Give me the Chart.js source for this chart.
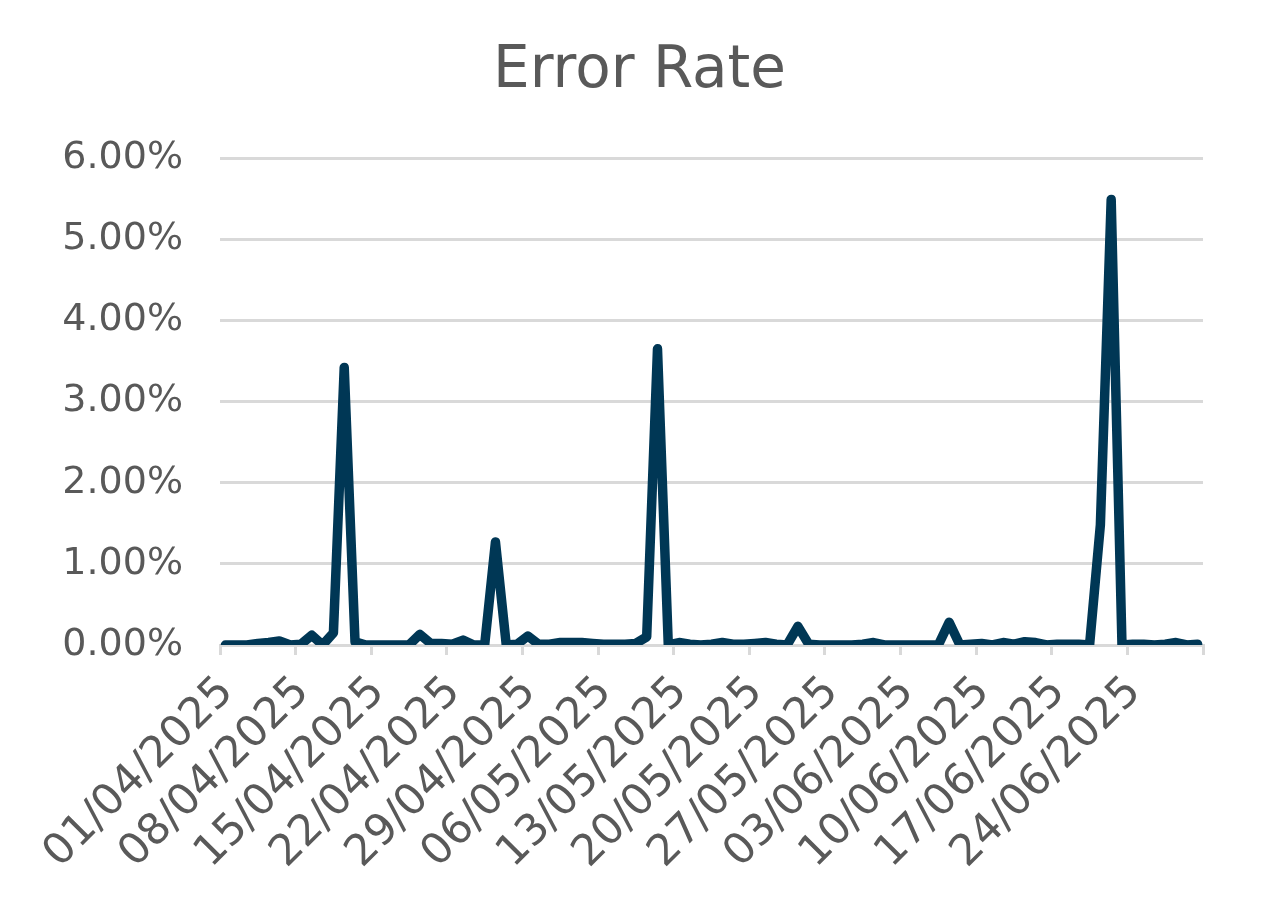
<!DOCTYPE html>
<html>
<head>
<meta charset="utf-8">
<script src="https://cdn.jsdelivr.net/npm/chart.js@4.4.1/dist/chart.umd.min.js"></script>
<style>
  html, body { margin: 0; padding: 0; background: #ffffff; }
  #wrap { width: 1279px; height: 906px; position: relative; }
</style>
</head>
<body>
<div id="wrap"><canvas id="errorChart"></canvas></div>
<script>
// Error Rate - daily values 01/04/2025 .. 30/06/2025 (in %)
const START_DATE = new Date(2025, 3, 1);
const DAY_COUNT = 91;

const errorRate = [
    0, 0, 0, 0.02, 0.03, 0.05, 0, 0.01, 0.12, 0,
    0.15, 3.42, 0.04, 0, 0, 0, 0, 0, 0.13, 0.02,
    0.02, 0.01, 0.06, 0, 0, 1.27, 0, 0.01, 0.11, 0.01,
    0.01, 0.03, 0.03, 0.03, 0.02, 0.01, 0.01, 0.01, 0.02, 0.1,
    3.65, 0, 0.03, 0.01, 0, 0.01, 0.03, 0.01, 0.01, 0.02,
    0.03, 0.01, 0, 0.23, 0.01, 0, 0, 0, 0, 0.01,
    0.03, 0, 0, 0, 0, 0, 0, 0.28, 0, 0.01,
    0.02, 0, 0.03, 0.01, 0.04, 0.03, 0, 0.01, 0.01, 0.01,
    0, 1.48, 5.49, 0, 0.01, 0.01, 0, 0.01, 0.03, 0,
    0.01,
];

const tickLabels = [
    '01/04/2025', '08/04/2025', '15/04/2025', '22/04/2025', '29/04/2025',
    '06/05/2025', '13/05/2025', '20/05/2025', '27/05/2025', '03/06/2025',
    '10/06/2025', '17/06/2025', '24/06/2025',
];

const yTicks = [0, 1, 2, 3, 4, 5, 6];

// 日付ラベル (カテゴリ)
const days = [];
for (let i = 0; i < DAY_COUNT; i++) {
    const d = new Date(START_DATE);
    d.setDate(d.getDate() + i);
    days.push(String(d.getDate()).padStart(2, '0') + '/' +
        String(d.getMonth() + 1).padStart(2, '0') + '/' + d.getFullYear());
}

const COLORS = {
    line: '#003755',
    text: '#595959',
    grid: '#d9d9d9',
};

Chart.defaults.font.family = "'DejaVu Sans', sans-serif";
Chart.defaults.color = COLORS.text;

// 各点は日の中央 (Excel の「目盛の間」と同じ)
const points = errorRate.map((v, i) => ({ x: i + 0.5, y: v, day: days[i] }));

new Chart(document.getElementById('errorChart'), {
    type: 'line',
    data: {
        datasets: [{
            label: 'Error Rate',
            data: points,
            borderColor: COLORS.line,
            borderWidth: 9.5,
            borderJoinStyle: 'round',
            borderCapStyle: 'round',
            pointRadius: 0,
            tension: 0,
            fill: false,
        }]
    },
    options: {
        responsive: true,
        maintainAspectRatio: false,
        animation: false,
        layout: { padding: 0 },
        plugins: {
            legend: { display: false },
            tooltip: { enabled: false },
            title: {
                display: true,
                text: 'Error Rate',
                color: COLORS.text,
                font: { size: 58, weight: 'normal' },
                padding: { top: 37, bottom: 51.6 },
            }
        },
        scales: {
            x: {
                type: 'linear',
                min: 0,
                max: DAY_COUNT,
                afterFit: s => { s.height = 261; },
                ticks: {
                    stepSize: 7,
                    autoSkip: false,
                    minRotation: 45,
                    maxRotation: 45,
                    padding: 12,
                    labelOffset: 7,
                    font: { size: 43 },
                    callback: v => tickLabels[v / 7] || '',
                },
                grid: {
                    drawOnChartArea: false,
                    drawTicks: true,
                    tickLength: 10,
                    color: COLORS.grid,
                    lineWidth: 3,
                },
                border: { display: true, color: COLORS.grid, width: 3 },
            },
            y: {
                min: yTicks[0],
                max: yTicks[yTicks.length - 1],
                afterFit: s => { s.width = 220; },
                ticks: {
                    stepSize: 1,
                    padding: 37,
                    font: { size: 38 },
                    callback: v => v.toFixed(2) + '%',
                },
                grid: {
                    color: COLORS.grid,
                    lineWidth: 3,
                    drawTicks: false,
                },
                border: { display: false },
            },
            // 右側の余白用 (表示なし)
            yRight: {
                position: 'right',
                display: true,
                afterFit: s => { s.width = 76; },
                ticks: { display: false },
                grid: { drawOnChartArea: false, drawTicks: false },
                border: { display: false },
            }
        }
    }
});
</script>
</body>
</html>
